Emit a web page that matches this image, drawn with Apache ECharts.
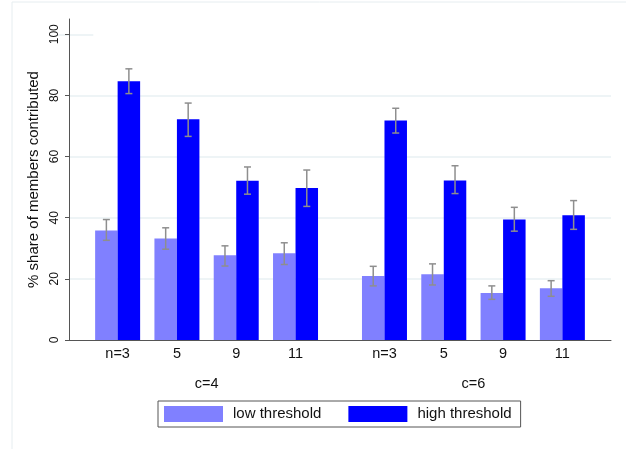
<!DOCTYPE html>
<html><head><meta charset="utf-8">
<script src="https://cdn.jsdelivr.net/npm/echarts@6/dist/echarts.min.js"></script>
<style>html,body{margin:0;padding:0;background:#fff}#c{width:626px;height:449px}</style>
</head><body><div id="c"></div>
<script>
var groups = ['c=4', 'c=6'];
var nLabels = ['n=3', '5', '9', '11'];
var seriesNames = ['low threshold', 'high threshold'];
var lowMean  = [35.8, 33.2, 27.7, 28.4, 20.9, 21.5, 15.4, 16.9];
var lowUpper = [39.4, 36.7, 30.8, 31.8, 24.1, 24.9, 17.7, 19.4];
var lowLower = [32.6, 29.7, 24.2, 24.7, 17.7, 18.0, 13.3, 14.3];
var highMean  = [84.6, 72.2, 52.1, 49.7, 71.8, 52.2, 39.4, 40.8];
var highUpper = [88.7, 77.5, 56.6, 55.6, 75.8, 57.0, 43.4, 45.6];
var highLower = [80.6, 66.6, 47.7, 43.7, 67.7, 47.9, 35.6, 36.2];
var yTicks = [0, 20, 40, 60, 80, 100];

var FONT = '"Liberation Sans", Arial, sans-serif';
var BW = 22.5;
var positions = [], labelMap = {};
groups.forEach(function (g, gi) {
  nLabels.forEach(function (n, ni) {
    var p = ni + gi * 4.5;
    positions.push(p);
    labelMap[p] = n;
  });
});
var groupPos = groups.map(function (g, gi) { return 1.5 + gi * 4.5; });
var groupMap = {};
groupPos.forEach(function (p, i) { groupMap[p] = groups[i]; });

function pairs(arr) { return arr.map(function (v, i) { return [positions[i], v]; }); }
function errData(up, lo) { return up.map(function (v, i) { return [positions[i], v, lo[i]]; }); }

function errSeries(up, lo, offset) {
  return {
    type: 'custom', xAxisIndex: 0, yAxisIndex: 0, z: 5,
    data: errData(up, lo),
    renderItem: function (params, api) {
      var a = api.coord([api.value(0), api.value(1)]);
      var b = api.coord([api.value(0), api.value(2)]);
      var x = a[0] + offset, cw = 3.5;
      var st = { stroke: '#8e8e8e', lineWidth: 1.5 };
      return { type: 'group', children: [
        { type: 'line', shape: { x1: x, y1: a[1], x2: x, y2: b[1] }, style: st },
        { type: 'line', shape: { x1: x - cw, y1: a[1], x2: x + cw, y2: a[1] }, style: st },
        { type: 'line', shape: { x1: x - cw, y1: b[1], x2: x + cw, y2: b[1] }, style: st }
      ]};
    }
  };
}

var chart = echarts.init(document.getElementById('c'), null, { renderer: 'canvas' });
chart.setOption({
  backgroundColor: '#fff',
  animation: false,
  graphic: [{ type: 'rect', shape: { x: 12, y: 2, width: 800, height: 600 },
    style: { fill: 'none', stroke: '#e6edf0', lineWidth: 1 }, z: -10 }],
  grid: { left: 69, right: 15, top: 19, bottom: 109 },
  legend: {
    left: 158, top: 401,
    data: seriesNames,
    itemWidth: 59, itemHeight: 16, itemGap: 27,
    borderColor: '#555', borderWidth: 1, borderRadius: 0,
    padding: [5, 9, 5, 6],
    icon: 'rect',
    textStyle: { fontFamily: FONT, fontSize: 15, color: '#111', padding: [0, 0, 0, 5] }
  },
  xAxis: [{
    type: 'value', min: -0.82, max: 8.32,
    axisLine: { show: true, onZero: false, lineStyle: { color: '#555', width: 1 } },
    axisTick: { show: false },
    splitLine: { show: false },
    axisLabel: {
      customValues: positions, margin: 6,
      fontFamily: FONT, fontSize: 14.5, color: '#111',
      formatter: function (v) { return labelMap[v] !== undefined ? labelMap[v] : ''; }
    }
  }, {
    type: 'value', min: -0.82, max: 8.32, position: 'bottom',
    axisLine: { show: false }, axisTick: { show: false }, splitLine: { show: false },
    axisLabel: {
      customValues: groupPos, margin: 36,
      fontFamily: FONT, fontSize: 14.5, color: '#111',
      formatter: function (v) { return groupMap[v] !== undefined ? groupMap[v] : ''; }
    }
  }],
  yAxis: {
    type: 'value', min: 0, max: 105,
    name: '% share of members contributed', nameLocation: 'middle', nameGap: 25,
    nameTextStyle: { fontFamily: FONT, fontSize: 15, color: '#111' },
    axisLine: { show: true, onZero: false, lineStyle: { color: '#555', width: 1 } },
    axisTick: { show: true, length: 4, customValues: yTicks, lineStyle: { color: '#555' } },
    axisLabel: { customValues: yTicks, rotate: 90, margin: 8, fontFamily: FONT, fontSize: 12, color: '#111' },
    splitLine: { show: false }
  },
  series: [{
    name: seriesNames[0], type: 'bar', data: pairs(lowMean), barWidth: BW, barGap: '0%',
    itemStyle: { color: '#8080ff' },
    markLine: {
      silent: true, symbol: 'none', label: { show: false },
      lineStyle: { color: '#e9f1f3', type: 'solid', width: 1.5 },
      z: 0,
      data: [{ yAxis: 20 }, { yAxis: 40 }, { yAxis: 60 }, { yAxis: 80 },
        [{ coord: [-0.82, 100] }, { coord: [-0.22, 100] }]]
    }
  }, {
    name: seriesNames[1], type: 'bar', data: pairs(highMean), barWidth: BW, barGap: '0%',
    itemStyle: { color: '#0000ff' }
  },
  errSeries(lowUpper, lowLower, -BW / 2),
  errSeries(highUpper, highLower, BW / 2)]
});
</script></body></html>
